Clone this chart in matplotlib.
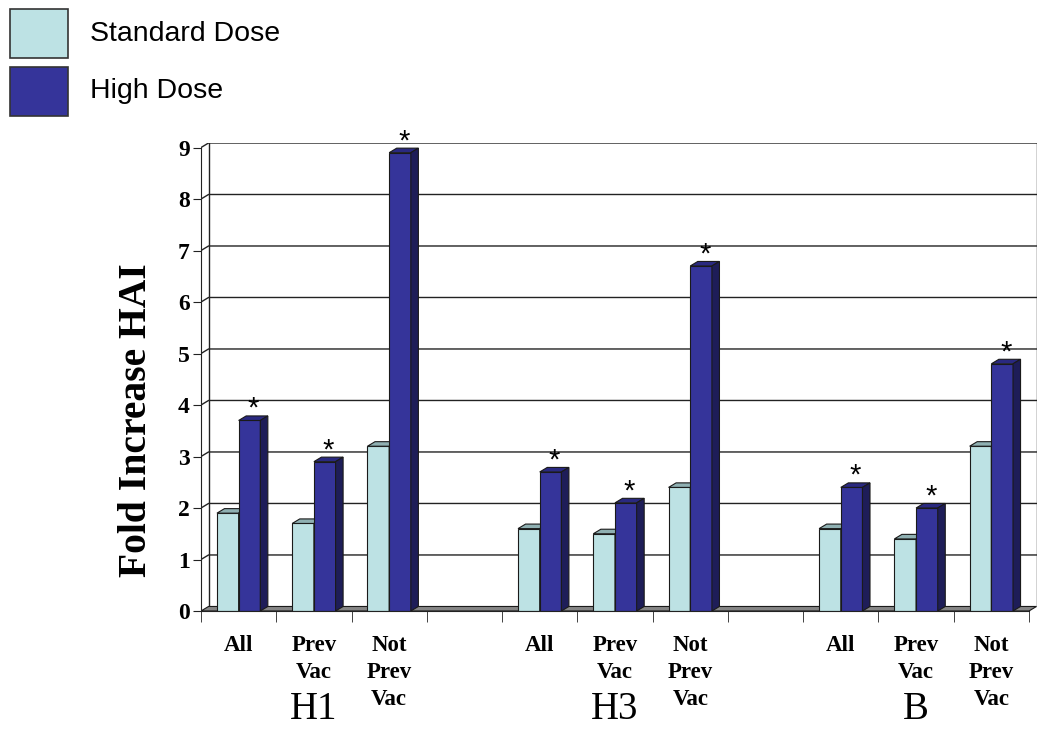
import matplotlib
matplotlib.use("Agg")
import matplotlib.pyplot as plt
from matplotlib.patches import Rectangle

groups = ["H1", "H3", "B"]
subgroups = ["All", "Prev\nVac", "Not\nPrev\nVac"]
standard_dose = [1.9, 1.7, 3.2, 1.6, 1.5, 2.4, 1.6, 1.4, 3.2]
high_dose = [3.7, 2.9, 8.9, 2.7, 2.1, 6.7, 2.4, 2.0, 4.8]
series_names = ["Standard Dose", "High Dose"]
yticks = list(range(0, 10))

SD_FRONT, SD_TOP, SD_SIDE = "#bde2e4", "#8fb0b2", "#7fa0a2"
HD_FRONT, HD_TOP, HD_SIDE = "#35349a", "#2a2980", "#1e1d58"
EDGE = "#1a1a1a"
SERIF = "Liberation Serif"
SANS = "Liberation Sans"

# depth offsets of the pseudo-3d look (slot units / value units)
DX, DY = 0.10, 0.088
BW = 0.288

# slot positions: 3 subgroups per group, one empty slot between groups
slots = []
for g in range(len(groups)):
    for s in range(len(subgroups)):
        slots.append(g * 4 + s)
n_slots = 4 * len(groups) - 1

fig = plt.figure(figsize=(10.5, 7.37), dpi=100)
ax = fig.add_axes([201 / 1050, (737 - 611) / 737, 835.5 / 1050, 468 / 737])
ax.set_xlim(0, n_slots + DX)
ax.set_ylim(0, 9 + DY)

# back wall gridlines + side wall connectors
for v in yticks[1:]:
    ax.plot([0, DX, n_slots + DX], [v, v + DY, v + DY], color="#222222", lw=1.0, zorder=1)
ax.plot([DX, DX], [DY, 9 + DY], color="#222222", lw=1.0, zorder=1)
ax.plot([n_slots + DX, n_slots + DX], [DY, 9 + DY], color="#222222", lw=1.0, zorder=1)

# floor
ax.fill([0, n_slots, n_slots + DX, DX], [0, 0, DY, DY], facecolor="#858585",
        edgecolor=EDGE, lw=0.8, zorder=2)


def bar3d(x0, h, front, top, side):
    ax.bar(x0, h, width=BW, align="edge", color=front, edgecolor=EDGE, lw=0.8, zorder=3)
    x1 = x0 + BW
    ax.fill([x0, x1, x1 + DX, x0 + DX], [h, h, h + DY, h + DY],
            facecolor=top, edgecolor=EDGE, lw=0.8, zorder=3)
    ax.fill([x1, x1 + DX, x1 + DX, x1], [0, DY, h + DY, h],
            facecolor=side, edgecolor=EDGE, lw=0.8, zorder=3)


for i, slot in enumerate(slots):
    c = slot + 0.5
    bar3d(c - BW, standard_dose[i], SD_FRONT, SD_TOP, SD_SIDE)
    bar3d(c, high_dose[i], HD_FRONT, HD_TOP, HD_SIDE)
    ax.text(c + BW / 2 + DX / 2, high_dose[i] + DY - 0.02, "*", ha="center",
            va="baseline", fontsize=21, family=SANS, zorder=4)

# axes, ticks, labels
for side in ["top", "right"]:
    ax.spines[side].set_visible(False)
ax.spines["left"].set_bounds(0, 9)
ax.spines["bottom"].set_bounds(0, n_slots)
for side in ["left", "bottom"]:
    ax.spines[side].set_color("#222222")
    ax.spines[side].set_zorder(5)

ax.set_yticks(yticks)
ax.set_yticklabels([str(v) for v in yticks], fontsize=17, fontweight="bold", family=SERIF)
ax.tick_params(axis="y", length=6, pad=2, color="#222222")

ax.set_xticks(range(0, n_slots + 1), minor=True)
ax.tick_params(axis="x", which="minor", length=8, color="#222222")
ax.set_xticks([s + 0.5 for s in slots])
ax.set_xticklabels(subgroups * len(groups), fontsize=16.5, fontweight="bold",
                   family=SERIF, linespacing=1.4, va="top")
ax.tick_params(axis="x", which="major", length=0, pad=17)

for g, name in enumerate(groups):
    ax.text(g * 4 + 1.5, -0.21, name, transform=ax.get_xaxis_transform(),
            ha="center", va="center", fontsize=28, family=SERIF)

ax.set_ylabel("Fold Increase HAI", fontsize=28.5, fontweight="bold", family=SERIF)
ax.yaxis.set_label_coords(-0.055, (611 - 420) / 468)

# legend boxes
for k, (name, col) in enumerate(zip(series_names, [SD_FRONT, HD_FRONT])):
    y0 = 1 - (58.3 + k * 58) / 737
    fig.add_artist(Rectangle((9.5 / 1050, y0), 58.5 / 1050, 49 / 737,
                             transform=fig.transFigure, facecolor=col,
                             edgecolor="#333333", lw=1.2))
    fig.text(90 / 1050, 1 - (34 + k * 57) / 737, name, fontsize=20.5,
             family=SANS, va="center", ha="left")

fig.savefig("out.png", dpi=100)
